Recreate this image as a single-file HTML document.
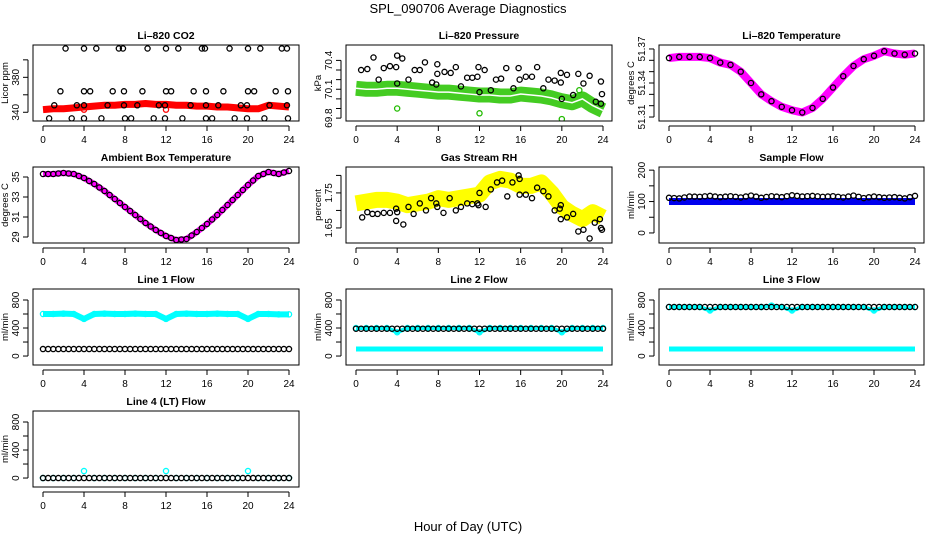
<!DOCTYPE html>
<html><head><meta charset="utf-8"><style>
body{margin:0;background:#fff}
svg{display:block;font-family:"Liberation Sans",sans-serif}
</style></head><body>
<svg id="chart" width="936" height="540" viewBox="0 0 936 540">
<text x="468" y="13" text-anchor="middle" font-size="13">SPL_090706  Average Diagnostics</text>
<text x="468" y="531" text-anchor="middle" font-size="13">Hour of Day (UTC)</text>
</svg>
<script>
const hours = [0,1,2,3,4,5,6,7,8,9,10,11,12,13,14,15,16,17,18,19,20,21,22,23,24];
const xTicks = [0,4,8,12,16,20,24];
// CO2
const co2Red = [343,344,344,345,346,347,348,348,349,349,350,349,349,348,348,347,347,346,346,345,344,344,348,347,346];
const co2BlkX = [2.2,4,5.2,7.4,7.8,10.2,12,13.2,15.5,15.8,18.2,20,21.2,23.3,23.8, 1.7,4,4.6,6.8,7.9,9.7,12,12.5,14.7,15.9,17.6,20,20.6,22.7,23.9, 1.1,3.3,4,6.3,7.9,9.2,11.3,11.9,14.4,15.9,17.1,19.3,19.9,22.1,23.8, 0.6,2.8,4,5.7,8,8.6,10.8,11.9,13.6,15.9,16.5,18.7,19.9,21.6,23.9];
const co2BlkY = [413,413,413,413,413,413,413,413,413,413,413,413,413,413,413, 364,364,364,364,364,364,364,364,364,364,364,364,364,364,364, 348,348,348,348,348,348,348,348,348,348,348,348,348,348,348, 333,333,333,333,333,333,333,333,333,333,333,333,333,333,333];
const co2RedOutX = [4,12];
const co2RedOutY = [343,343];
// Pressure
const presGreen = [70.11,70.10,70.10,70.11,70.11,70.10,70.09,70.08,70.07,70.07,70.06,70.05,70.04,70.04,70.03,70.03,70.05,70.04,70.03,70.01,69.98,69.96,70.00,69.93,69.88];
const presBlkX = [0.5,1.1,1.7,2.2,2.7,3.3,3.9,4,4,4.5,5.1,5.7,6.2,6.7,7.4,7.8,7.9,7.9,8.6,9.2,9.7,10.2,10.8,11.3,11.8,11.9,12,12.5,13.1,13.6,14.1,14.6,15.3,15.8,15.9,16.5,17.1,17.6,18.2,18.7,19.3,19.9,19.9,20,20.5,21.1,21.6,22.1,22.7,23.3,23.8,23.9,23.8];
const presBlkY = [70.3,70.31,70.43,70.2,70.32,70.34,70.33,70.45,70.16,70.42,70.2,70.3,70.3,70.38,70.17,70.15,70.36,70.26,70.28,70.27,70.33,70.13,70.22,70.22,70.23,70.33,70.07,70.3,70.09,70.2,70.21,70.32,70.11,70.32,70.2,70.23,70.23,70.33,70.11,70.2,70.19,70.17,70.27,70.0,70.25,70.04,70.26,70.16,70.24,69.97,69.95,70.05,70.18];
const presGreenOutX = [4,12,20,21.7];
const presGreenOutY = [69.9,69.85,69.79,70.09];
// Li-820 temperature
const tempLi = [51.362,51.363,51.363,51.363,51.362,51.358,51.356,51.350,51.340,51.330,51.324,51.319,51.316,51.314,51.318,51.326,51.336,51.346,51.355,51.361,51.364,51.368,51.366,51.365,51.366];
// Ambient
const tempAmb = [35.3,35.3,35.4,35.3,34.9,34.3,33.6,32.8,32.0,31.2,30.4,29.7,29.1,28.7,28.8,29.5,30.3,31.2,32.2,33.2,34.2,35.1,35.5,35.3,35.6];
// RH
const rhYellow = [1.72,1.725,1.73,1.73,1.725,1.715,1.72,1.725,1.735,1.73,1.735,1.74,1.745,1.78,1.79,1.785,1.77,1.77,1.78,1.75,1.71,1.69,1.675,1.695,1.68];
const rhBlkX = [0.6,1.1,1.6,2.1,2.7,3.3,3.9,3.9,4,4.6,5.1,5.6,6.2,6.8,7.3,7.8,7.9,8.5,9.1,9.7,10.2,10.8,11.3,11.8,11.9,12,12.6,13.1,13.7,14.2,14.7,15.2,15.8,15.9,15.9,16.5,17.1,17.6,18.2,18.7,19.3,19.8,19.9,19.9,20.5,21.1,21.6,22.1,22.7,23.2,23.7,23.8,23.9];
const rhBlkY = [1.68,1.695,1.69,1.69,1.693,1.693,1.705,1.67,1.695,1.66,1.71,1.69,1.72,1.70,1.735,1.72,1.71,1.693,1.735,1.70,1.71,1.72,1.718,1.72,1.715,1.75,1.71,1.76,1.78,1.785,1.74,1.78,1.80,1.79,1.745,1.745,1.735,1.765,1.755,1.74,1.70,1.705,1.715,1.675,1.68,1.69,1.64,1.645,1.62,1.665,1.675,1.65,1.645];
// Sample flow
const sampleBlue = [100,100,100,100,100,100,100,100,100,100,100,100,100,100,100,100,100,100,100,100,100,100,100,100,100];
const sampleBlk = [112,110,116,115,118,114,117,113,119,112,117,114,120,116,118,115,117,113,119,111,116,112,114,110,118];
// Line flows
const l1Cyan = [600,600,605,600,530,600,605,600,600,605,600,600,530,600,605,600,600,605,600,600,530,600,600,595,595];
const l1Blk = [100,100,100,100,100,100,100,100,100,100,100,100,100,100,100,100,100,100,100,100,100,100,100,100,100];
const l2CyanHi = [400,400,400,400,340,400,400,400,400,400,400,400,340,400,400,400,400,400,400,400,340,400,400,400,400];
const l2CyanLo = [100,100,100,100,100,100,100,100,100,100,100,100,100,100,100,100,100,100,100,100,100,100,100,100,100];
const l2Blk = [390,390,390,390,390,390,390,390,390,390,390,390,390,390,390,390,390,390,390,390,390,390,390,390,390];
const l3CyanHi = [700,700,700,700,650,700,700,700,700,700,720,700,650,700,700,700,700,700,700,700,650,700,700,700,700];
const l3CyanLo = [100,100,100,100,100,100,100,100,100,100,100,100,100,100,100,100,100,100,100,100,100,100,100,100,100];
const l3Blk = [700,700,700,700,700,700,700,700,700,700,700,700,700,700,700,700,700,700,700,700,700,700,700,700,700];
const l4Cyan = [0,0,0,0,100,0,0,0,0,0,0,0,100,0,0,0,0,0,0,0,100,0,0,0,0];
const l4Blk = [0,0,0,0,0,0,0,0,0,0,0,0,0,0,0,0,0,0,0,0,0,0,0,0,0];

const NS = "http://www.w3.org/2000/svg";
const svg = document.getElementById('chart');
const cols = [{bl:33,br:299,x0:43,x1:289},{bl:346,br:612,x0:356,x1:603},{bl:659,br:924,x0:669,x1:915}];
const rowsTop = [45,167,289,411];
const BH = 76;
function mk(tag, attrs, parent){
  const e = document.createElementNS(NS, tag);
  for (const k in attrs) e.setAttribute(k, attrs[k]);
  (parent||svg).appendChild(e);
  return e;
}
function panel(cfg){
  const c = cols[cfg.col], top = rowsTop[cfg.row], bot = top + BH;
  const g = mk('g', {});
  
  
  const xs = v => c.x0 + (v/24)*(c.x1-c.x0);
  const ys = v => bot - (v-cfg.ymin)/(cfg.ymax-cfg.ymin)*BH;
  const t = mk('text', {x:(c.bl+c.br)/2, y:top-6, 'text-anchor':'middle', 'font-size':10.5, 'font-weight':'bold'}, g);
  t.textContent = cfg.title;
  
  
  const clip = 'clip'+cfg.col+cfg.row;
  const cp = mk('clipPath', {id:clip}, g);
  mk('rect', {x:c.bl, y:top, width:c.br-c.bl, height:BH}, cp);
  const dg = mk('g', {'clip-path':'url(#'+clip+')'}, g);
  for (const s of cfg.series){
    const col = s.color;
    const sx = s.x || hours;
    if (s.band){
      const pts = s.y.map((v,i)=>xs(sx[i])+','+ys(v)).join(' ');
      const pl = mk('polyline', {points:pts, fill:'none', stroke:col, 'stroke-width':s.band, 'stroke-linejoin':'round', 'stroke-linecap':'butt'}, dg);
      
      
      if (s.gap){
        mk('polyline', {points:pts, fill:'none', stroke:'#fff', 'stroke-width':1.5}, dg);
      }
    }
    if (s.pts){
      const pg = mk('g', {}, dg);
      
      
      s.y.forEach((v,i)=>{
        const c1 = mk('circle', {cx:xs(sx[i]), cy:ys(v), r:2.6, fill:'none', stroke:col, 'stroke-width':1.3}, pg);
        
        
        if (s.chain && i < s.y.length-1){
          const mid = mk('circle', {cx:(xs(sx[i])+xs(sx[i+1]))/2, cy:(ys(v)+ys(s.y[i+1]))/2, r:2.6, fill:'none', stroke:col, 'stroke-width':1.3}, pg);
          
          
        }
      });
    }
  }
  mk('rect', {x:c.bl, y:top, width:c.br-c.bl, height:BH, fill:'none', stroke:'#000', 'stroke-width':1}, g);
  mk('line', {x1:xs(0), x2:xs(24), y1:bot+5, y2:bot+5, stroke:'#000'}, g);
  xTicks.forEach(v=>{
    mk('line', {x1:xs(v), x2:xs(v), y1:bot+5, y2:bot+10, stroke:'#000'}, g);
    const tx = mk('text', {x:xs(v), y:bot+22, 'text-anchor':'middle', 'font-size':10}, g);
    tx.textContent = v;
    
    
  });
  const ax = c.bl - 5;
  mk('line', {x1:ax, x2:ax, y1:ys(cfg.ticks[0]), y2:ys(cfg.ticks[cfg.ticks.length-1]), stroke:'#000'}, g);
  cfg.ticks.forEach(v=>{
    mk('line', {x1:ax-5, x2:ax, y1:ys(v), y2:ys(v), stroke:'#000'}, g);
  });
  cfg.labels.forEach(v=>{
    const lx = ax - 9, ly = ys(v);
    const tx = mk('text', {x:lx, y:ly, 'text-anchor':'middle', 'font-size':10, transform:'rotate(-90 '+lx+' '+ly+')'}, g);
    tx.textContent = v;
    
    
  });
  const yx = c.bl - 25, yy = (top+bot)/2;
  const yl = mk('text', {x:yx, y:yy, 'text-anchor':'middle', 'font-size':9.5, transform:'rotate(-90 '+yx+' '+yy+')'}, g);
  yl.textContent = cfg.ylab;
  
  
}
const flowTicks = [0,200,400,600,800];
panel({name:'co2-panel', col:0,row:0,title:'Li\u2013820 CO2',ylab:'Licor ppm',ymin:330,ymax:417,ticks:[340,360,380,400],labels:[340,380],
  series:[{name:'co2-red',color:'#f00',y:co2Red,band:7},{name:'co2-red-out',color:'#f00',x:co2RedOutX,y:co2RedOutY,pts:1},{name:'co2-black',color:'#000',x:co2BlkX,y:co2BlkY,pts:1}]});
panel({name:'pressure-panel', col:1,row:0,title:'Li\u2013820 Pressure',ylab:'kPa',ymin:69.77,ymax:70.56,ticks:[69.8,69.9,70.0,70.1,70.2,70.3,70.4],labels:[69.8,70.1,70.4],
  series:[{name:'pressure-green',color:'#44cc22',y:presGreen,band:15,gap:1},{name:'pressure-green-out',color:'#22bb00',x:presGreenOutX,y:presGreenOutY,pts:1},{name:'pressure-black',color:'#000',x:presBlkX,y:presBlkY,pts:1}]});
panel({name:'li820-temp-panel', col:2,row:0,title:'Li\u2013820 Temperature',ylab:'degrees C',ymin:51.3065,ymax:51.3735,ticks:[51.31,51.32,51.33,51.34,51.35,51.36,51.37],labels:[51.31,51.34,51.37],
  series:[{name:'li820-temp-magenta',color:'#f0f',y:tempLi,band:8},{name:'li820-temp-black',color:'#000',y:tempLi,pts:1}]});
panel({name:'ambient-temp-panel', col:0,row:1,title:'Ambient Box Temperature',ylab:'degrees C',ymin:28.4,ymax:36,ticks:[29,31,33,35],labels:[29,31,33,35],
  series:[{name:'ambient-magenta',color:'#f0f',y:tempAmb,band:6},{name:'ambient-black',color:'#000',y:tempAmb,pts:1,chain:1}]});
panel({name:'rh-panel', col:1,row:1,title:'Gas Stream RH',ylab:'percent',ymin:1.607,ymax:1.824,ticks:[1.65,1.70,1.75,1.80],labels:[1.65,1.75],
  series:[{name:'rh-yellow',color:'#ff0',y:rhYellow,band:16},{name:'rh-black',color:'#000',x:rhBlkX,y:rhBlkY,pts:1}]});
panel({name:'sample-flow-panel', col:2,row:1,title:'Sample Flow',ylab:'ml/min',ymin:-32,ymax:210,ticks:[0,50,100,150,200],labels:[0,100,200],
  series:[{name:'sample-blue',color:'#0000ee',y:sampleBlue,band:7},{name:'sample-black',color:'#000',y:sampleBlk,pts:1,chain:1}]});
panel({name:'line1-flow-panel', col:0,row:2,title:'Line 1 Flow',ylab:'ml/min',ymin:-128,ymax:957,ticks:flowTicks,labels:[0,400,800],
  series:[{name:'line1-cyan',color:'#0ff',y:l1Cyan,band:6},{name:'line1-cyan-pts',color:'#0ff',y:l1Cyan,pts:1},{name:'line1-black',color:'#000',y:l1Blk,pts:1,chain:1}]});
panel({name:'line2-flow-panel', col:1,row:2,title:'Line 2 Flow',ylab:'ml/min',ymin:-128,ymax:957,ticks:flowTicks,labels:[0,400,800],
  series:[{name:'line2-cyan-low',color:'#0ff',y:l2CyanLo,band:5},{name:'line2-cyan-high',color:'#0ff',y:l2CyanHi,band:4},{name:'line2-cyan-pts',color:'#0ff',y:l2CyanHi,pts:1},{name:'line2-black',color:'#000',y:l2Blk,pts:1,chain:1}]});
panel({name:'line3-flow-panel', col:2,row:2,title:'Line 3 Flow',ylab:'ml/min',ymin:-128,ymax:957,ticks:flowTicks,labels:[0,400,800],
  series:[{name:'line3-cyan-low',color:'#0ff',y:l3CyanLo,band:5},{name:'line3-cyan-high',color:'#0ff',y:l3CyanHi,band:4},{name:'line3-cyan-pts',color:'#0ff',y:l3CyanHi,pts:1},{name:'line3-black',color:'#000',y:l3Blk,pts:1,chain:1}]});
panel({name:'line4-flow-panel', col:0,row:3,title:'Line 4 (LT) Flow',ylab:'ml/min',ymin:-128,ymax:957,ticks:flowTicks,labels:[0,400,800],
  series:[{name:'line4-cyan',color:'#0ff',y:l4Cyan,pts:1},{name:'line4-black',color:'#000',y:l4Blk,pts:1,chain:1}]});
</script>
</body></html>
